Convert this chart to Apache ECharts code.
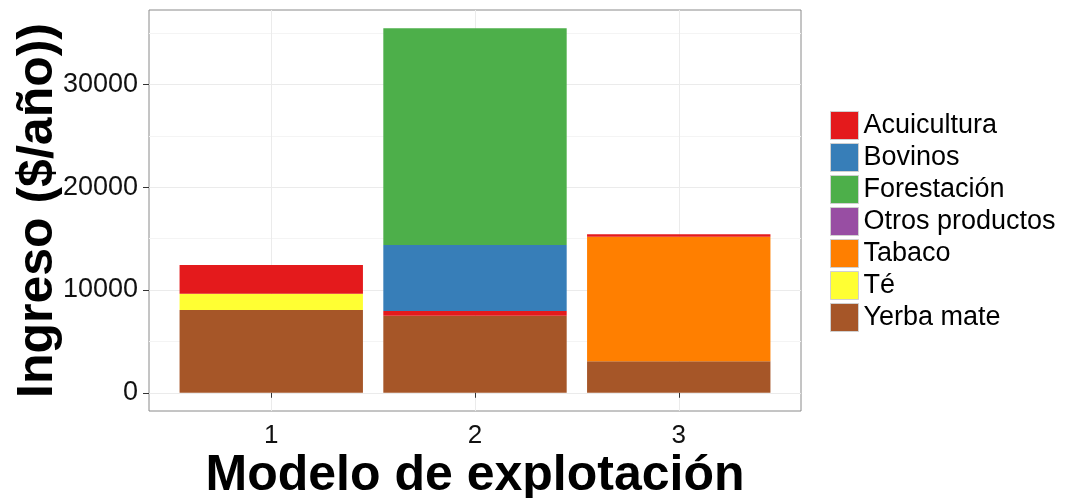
<!DOCTYPE html>
<html>
<head>
<meta charset="utf-8">
<script src="https://cdn.jsdelivr.net/npm/echarts@6/dist/echarts.min.js"></script>
<style>
html,body{margin:0;padding:0;background:#fff;}
#chart{width:1069px;height:498px;}
</style>
</head>
<body>
<div id="chart"></div>
<script>
// ---- data ----
var categories = ['1', '2', '3'];
var categoryPositions = [1, 2, 3];
var yerbaMate   = [8050, 7500, 3060];
var te          = [1590, 0, 0];
var tabaco      = [0, 0, 12130];
var acuicultura = [2800, 460, 230];
var bovinos     = [0, 6430, 0];
var forestacion = [0, 21090, 0];
var otros       = [0, 0, 0];
var yMajorTicks = [0, 10000, 20000, 30000];
var yMinorTicks = [5000, 15000, 25000, 35000];
var legendOrder = ['Acuicultura', 'Bovinos', 'Forestación', 'Otros productos', 'Tabaco', 'Té', 'Yerba mate'];

var colors = {
  'Acuicultura': '#E41A1C',
  'Bovinos': '#377EB8',
  'Forestación': '#4DAF4A',
  'Otros productos': '#984EA3',
  'Tabaco': '#FF7F00',
  'Té': '#FFFF33',
  'Yerba mate': '#A65628'
};

// stacking order (bottom to top)
var stackSeries = [
  ['Yerba mate', yerbaMate],
  ['Té', te],
  ['Tabaco', tabaco],
  ['Acuicultura', acuicultura],
  ['Bovinos', bovinos],
  ['Forestación', forestacion],
  ['Otros productos', otros]
];

var totals = categories.map(function (_, i) {
  return stackSeries.reduce(function (s, d) { return s + d[1][i]; }, 0);
});
var maxTotal = Math.max.apply(null, totals);
var yMax = maxTotal * 1.05;
var yMin = -maxTotal * 0.05;

// panel geometry (ggplot discrete axis: 0.4 .. 3.6)
var W = 1069, H = 498;
var pLeft = 149, pRight = 801, pTop = 10, pBottom = 411;
var xLo = 0.4, xHi = 3.6;
var unit = (pRight - pLeft) / (xHi - xLo);
var bLeft = pLeft + (0.5 - xLo) * unit;
var bRight = pLeft + (3.5 - xLo) * unit;

var font = 'Liberation Sans, Arial, sans-serif';

var chart = echarts.init(document.getElementById('chart'));
var option = {
  backgroundColor: '#ffffff',
  animation: false,
  grid: [{
    left: pLeft, right: W - pRight, top: pTop, bottom: H - pBottom,
    outerBoundsMode: 'none', containLabel: false,
    show: true, borderColor: '#8a8a8a', borderWidth: 1, backgroundColor: '#ffffff'
  }, {
    left: bLeft, right: W - bRight, top: pTop, bottom: H - pBottom,
    outerBoundsMode: 'none', containLabel: false, show: false
  }],
  legend: {
    data: legendOrder,
    orient: 'vertical',
    left: 825, top: 106,
    itemWidth: 28, itemHeight: 28, itemGap: 3,
    icon: 'rect',
    itemStyle: { borderColor: '#d0d0d0', borderWidth: 1 },
    textStyle: { fontSize: 27, fontFamily: font, color: '#000', lineHeight: 28 },
    selectedMode: false
  },
  xAxis: [{
    type: 'value',
    gridIndex: 0,
    min: xLo, max: xHi,
    axisLine: { show: false },
    axisTick: { show: true, length: 5, lineStyle: { color: '#333' }, customValues: categoryPositions },
    axisLabel: {
      customValues: categoryPositions,
      formatter: function (v) { return categories[categoryPositions.indexOf(v)]; },
      fontSize: 26, fontFamily: font, color: '#111', margin: 12
    },
    splitLine: { show: true, lineStyle: { color: '#ebebeb', width: 1 } },
    name: 'Modelo de explotación',
    nameLocation: 'middle',
    nameGap: 40,
    nameMoveOverlap: false,
    nameTextStyle: { fontSize: 50, fontWeight: 'bold', fontFamily: font, color: '#000' }
  }, {
    type: 'category',
    gridIndex: 1,
    data: categories,
    show: false
  }],
  yAxis: [{
    type: 'value',
    gridIndex: 0,
    min: yMin, max: yMax,
    axisLine: { show: false },
    axisTick: { show: true, length: 6, lineStyle: { color: '#333' }, customValues: yMajorTicks },
    axisLabel: {
      customValues: yMajorTicks,
      formatter: function (v) { return String(Math.round(v)); },
      fontSize: 27, fontFamily: font, color: '#111', margin: 11
    },
    splitLine: { show: true, lineStyle: { color: '#ebebeb', width: 1 } },
    name: 'Ingreso ($/año))',
    nameLocation: 'middle',
    nameGap: 86,
    nameMoveOverlap: false,
    nameTextStyle: { fontSize: 50, fontWeight: 'bold', fontFamily: font, color: '#000' }
  }, {
    type: 'value',
    gridIndex: 0,
    min: yMin, max: yMax,
    axisLine: { show: false },
    axisTick: { show: false, customValues: yMinorTicks },
    axisLabel: { show: false, customValues: yMinorTicks },
    splitLine: { show: true, lineStyle: { color: '#f4f4f4', width: 1 } }
  }, {
    type: 'value',
    gridIndex: 1,
    min: yMin, max: yMax,
    show: false,
    splitLine: { show: false }
  }],
  series: stackSeries.map(function (d) {
    return {
      name: d[0],
      type: 'bar',
      stack: 'total',
      xAxisIndex: 1,
      yAxisIndex: 2,
      barWidth: '90%',
      itemStyle: { color: colors[d[0]] },
      data: d[1]
    };
  })
};
chart.setOption(option);
</script>
</body>
</html>
